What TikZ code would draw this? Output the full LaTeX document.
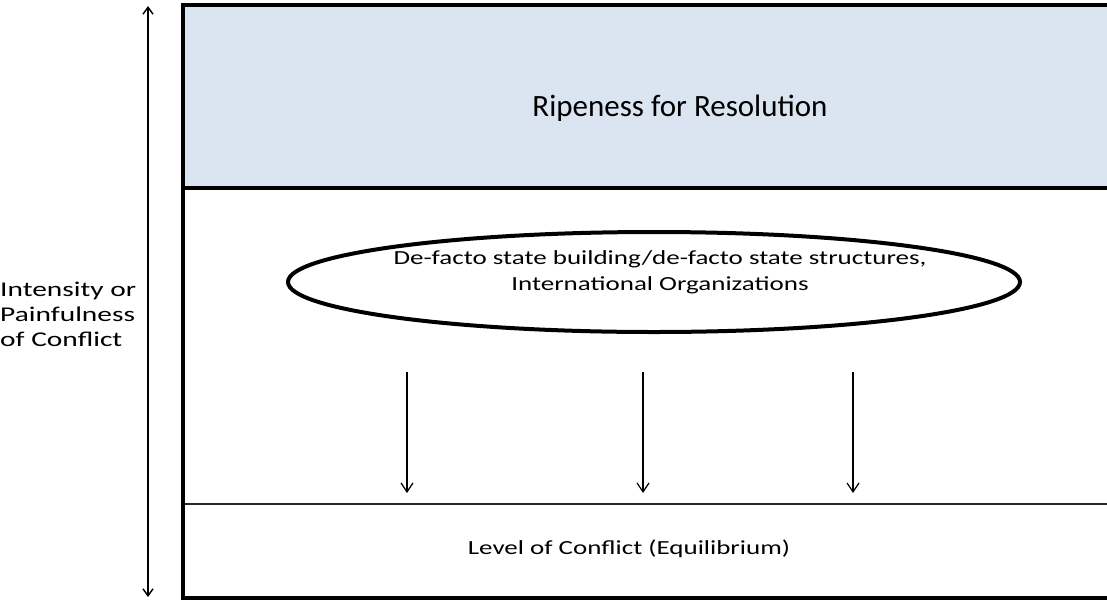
\documentclass[tikz,border=0pt]{standalone}
\usepackage{fontspec}
\setmainfont{Carlito}
\newfontfamily\widefont[FakeStretch=1.35]{Carlito}
\newfontfamily\axisfont[FakeStretch=1.4]{Carlito}
\usetikzlibrary{shapes.geometric,arrows.meta}
\definecolor{ripeblue}{RGB}{219,229,241}
\tikzset{
    smalltext/.style={font=\widefont\fontsize{20}{26}\selectfont, align=center, inner sep=0pt},
    thickrule/.style={line width=4pt},
    barb/.style={line width=1.2pt, -{Straight Barb[length=9pt,width=12pt]}},
}
\begin{document}
\begin{tikzpicture}[x=1pt,y=-1pt]
        \useasboundingbox (0,0) rectangle (1107,600);
        % frame and the ripe band
        \fill[ripeblue] (183,5) rectangle (1107,188);
        \draw[thickrule] (1107,5) -- (183,5) -- (183,598) -- (1107,598);
        \draw[thickrule] (183,188) -- (1107,188);
        \draw[line width=1.5pt, black!85] (185,504) -- (1107,504);
        \node[font=\fontsize{31}{37}\selectfont] (ripe) at (680,108) {Ripeness for Resolution};
        % actors
        \node[draw, ellipse, line width=4pt, minimum width=732pt, minimum height=100pt] (actors) at (654,282) {};
        \node[smalltext] (actorstext) at (660,272) {De-facto state building/de-facto state structures,\\International Organizations};
        \node[smalltext] (level) at (629,549) {Level of Conflict (Equilibrium)};
        % axis
        \node[smalltext, font=\axisfont\fontsize{21}{25}\selectfont, align=left, anchor=west] (axis) at (0,314) {Intensity or\\Painfulness\\of Conflict};
        \coordinate (axistop) at (148,6);
        \coordinate (axisbottom) at (148,597);
        \draw[line width=1.4pt, {Straight Barb[length=7pt,width=10pt]}-{Straight Barb[length=7pt,width=10pt]}] (axistop) -- (axisbottom);
        % pressure on the level
        \foreach \x [count=\i] in {407,643,853} {
            \coordinate (push\i) at (\x,372);
            \coordinate (hit\i) at (\x,493);
            \draw[barb] (push\i) -- (hit\i);
        }
    \end{tikzpicture}
\end{document}
